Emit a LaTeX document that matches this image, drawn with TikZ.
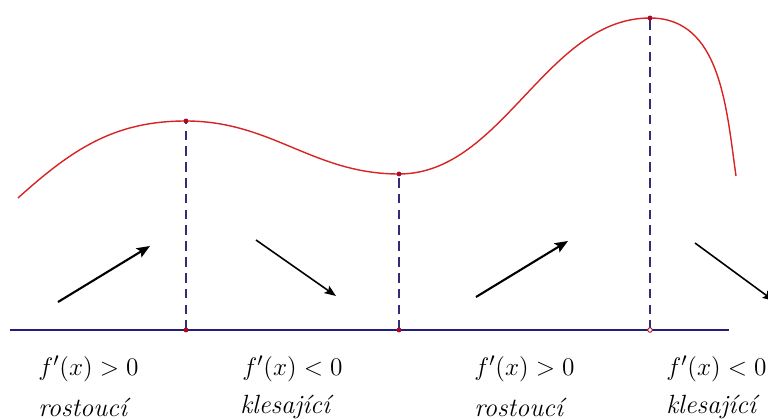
\documentclass[tikz,border=0pt]{standalone}
\usepackage{amsmath}
\usepackage{tikz}
\usetikzlibrary{arrows.meta}
\definecolor{curvered}{RGB}{215,35,35}
\definecolor{axisblue}{RGB}{35,30,125}
\definecolor{dashblue}{RGB}{50,45,120}
\definecolor{dotred}{RGB}{170,10,40}

\begin{document}
\begin{tikzpicture}[x=0.02cm,y=0.02cm,
  curve/.style={draw=curvered,line width=0.8pt},
  axis/.style={draw=axisblue,line width=0.8pt},
  dashline/.style={draw=dashblue,line width=0.8pt,dash pattern=on 5.5pt off 3.5pt},
  rise/.style={-{Stealth[length=7.5pt,width=6pt,inset=1.5pt]},line width=1.2pt},
  fall/.style={-{Stealth[length=6.5pt,width=5pt,inset=1.2pt]},line width=0.9pt},
  lbl/.style={anchor=west,inner sep=0pt,font=\fontsize{15}{18}\selectfont}]
\useasboundingbox (0,0) rectangle (768,419);
% osa x
\coordinate (o1) at (10,89);
\coordinate (o2) at (729,89);
\draw[axis] (o1)--(o2);
% extremy a jejich pate
\coordinate (m1) at (186,298);
\coordinate (m2) at (399,245);
\coordinate (m3) at (650,401);
\foreach \i/\xx in {1/186,2/399,3/650}
  \coordinate (b\i) at (\xx,89);
\foreach \i in {1,2,3}
  \draw[dashline] (b\i)--(m\i);
% graf funkce
\coordinate (c0) at (18,221);
\coordinate (c4) at (736,243);
\draw[curve] (c0) to[out=42,in=180] (m1) to[out=0,in=180] (m2)
  to[out=0,in=180,looseness=0.9] (m3) to[out=0,in=98] (c4);
\foreach \i in {1,2,3}
  \fill[dotred] (m\i) circle (1.4pt);
\fill[dotred] (b1) circle (1.4pt);
\fill[dotred] (b2) circle (1.4pt);
\draw[dotred,fill=white,line width=0.5pt] (b3) circle (1.3pt);
% sipky
\coordinate (p1) at (58,117);  \coordinate (q1) at (150,173);
\coordinate (p2) at (256,179); \coordinate (q2) at (336,123);
\coordinate (p3) at (476,122); \coordinate (q3) at (568,178);
\coordinate (p4) at (695,176); \coordinate (q4) at (774,118);
\draw[rise] (p1)--(q1);
\draw[fall] (p2)--(q2);
\draw[rise] (p3)--(q3);
\draw[fall] (p4)--(q4);
% popisky
\node[lbl] (d1) at (38,50) {$f'(x) > 0$};
\node[lbl] (d2) at (242,50) {$f'(x) < 0$};
\node[lbl] (d3) at (474,50) {$f'(x) > 0$};
\node[lbl] (d4) at (666,50) {$f'(x) < 0$};
\node[lbl] (s1) at (38,12) {\itshape rostoucí};
\node[lbl] (s2) at (240,12) {\itshape klesající};
\node[lbl] (s3) at (474,12) {\itshape rostoucí};
\node[lbl] (s4) at (666,12) {\itshape klesající};
\end{tikzpicture}
\end{document}
